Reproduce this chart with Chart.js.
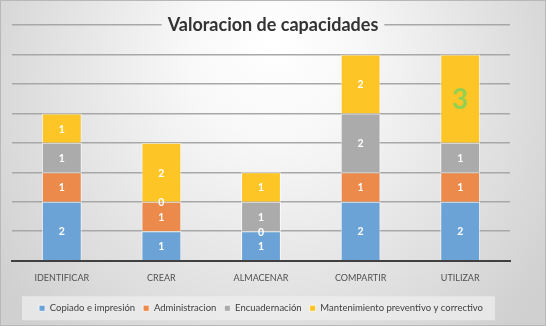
<!DOCTYPE html>
<html>
<head>
<meta charset="utf-8">
<script src="https://cdn.jsdelivr.net/npm/chart.js@4.4.1/dist/chart.umd.min.js"></script>
<style>
  html, body { margin: 0; padding: 0; background: #fff; }
  #wrap { width: 546px; height: 326px; }
</style>
</head>
<body>
<div id="wrap"><canvas id="capChart" width="546" height="326"></canvas></div>
<script>
const categories = ['IDENTIFICAR', 'CREAR', 'ALMACENAR', 'COMPARTIR', 'UTILIZAR'];
const seriesNames = ['Copiado e impresión', 'Administracion', 'Encuadernación', 'Mantenimiento preventivo y correctivo'];
const copiado = [2, 1, 1, 2, 2];
const administracion = [1, 1, 0, 1, 1];
const encuadernacion = [1, 0, 1, 2, 1];
const mantenimiento = [1, 2, 1, 2, 3];
const yMax = 8;

const titleText = 'Valoracion de capacidades';
const FONT = 'Lato, "Open Sans", sans-serif';

function bgGradient(c, w, h) {
    const g = c.createRadialGradient(w * 0.5, h * 0.12, 5, w * 0.5, h * 0.3, w * 0.6);
    g.addColorStop(0, '#ffffff');
    g.addColorStop(0.25, '#f8f8f8');
    g.addColorStop(1, '#d0d0d0');
    return g;
}

// background gradient + legend box + title
const bgPlugin = {
    id: 'bg',
    beforeDraw(chart) {
        const c = chart.ctx;
        const w = chart.width, h = chart.height;
        c.save();
        c.fillStyle = bgGradient(c, w, h);
        c.fillRect(0, 0, w, h);
        c.strokeStyle = '#b8b8b8';
        c.lineWidth = 1;
        c.strokeRect(0.5, 0.5, w - 1, h - 1);
        const boxes = chart.legend.legendHitBoxes;
        if (boxes && boxes.length) {
            const l = Math.min(...boxes.map(b => b.left)) - 17;
            const r = Math.max(...boxes.map(b => b.left + b.width)) + 12;
            const mid = boxes[0].top + boxes[0].height / 2;
            c.fillStyle = 'rgba(240,240,240,0.7)';
            c.fillRect(l, mid - 12, r - l, 24);
        }
        c.restore();
    },
    beforeDatasetsDraw(chart) {
        const c = chart.ctx;
        const w = chart.width, h = chart.height;
        c.save();
        c.font = 'bold 18px ' + FONT;
        const tw = c.measureText(titleText).width;
        const cx = w / 2;
        c.fillStyle = bgGradient(c, w, h);
        c.fillRect(cx - tw / 2 - 6, 14, tw + 12, 22);
        c.fillStyle = '#333333';
        c.textAlign = 'center';
        c.textBaseline = 'middle';
        c.fillText(titleText, cx, 25);
        c.restore();
    }
};

// value labels inside the segments
const labelPlugin = {
    id: 'segLabels',
    afterDatasetsDraw(chart) {
        const c = chart.ctx;
        c.save();
        c.textAlign = 'center';
        c.textBaseline = 'middle';
        chart.data.datasets.forEach((ds, di) => {
            chart.getDatasetMeta(di).data.forEach((bar, i) => {
                const x = bar.x;
                const y = (bar.y + bar.base) / 2;
                if (di === 3 && i === 4) {
                    c.font = 'bold 28px ' + FONT;
                    c.fillStyle = '#92D050';
                } else {
                    c.font = 'bold 10.5px ' + FONT;
                    c.fillStyle = '#ffffff';
                }
                c.fillText(String(ds.data[i]), x, y + 1);
            });
        });
        c.restore();
    }
};

var ctx = document.getElementById('capChart').getContext('2d');

var capChart = new Chart(ctx, {
    type: 'bar',
    data: {
        labels: categories,
        datasets: [
            { label: seriesNames[0], data: copiado, backgroundColor: '#6BA3D6' },
            { label: seriesNames[1], data: administracion, backgroundColor: '#EC8A4C' },
            { label: seriesNames[2], data: encuadernacion, backgroundColor: '#ABABAB' },
            { label: seriesNames[3], data: mantenimiento, backgroundColor: '#FDC526' }
        ].map(d => Object.assign(d, {
            borderColor: 'rgba(255,255,255,0.7)',
            borderWidth: 1,
            categoryPercentage: 0.8,
            barPercentage: 0.5
        }))
    },
    options: {
        responsive: false,
        animation: false,
        layout: { padding: { top: 25, left: 12, right: 36, bottom: 3 } },
        scales: {
            x: {
                stacked: true,
                grid: { color: 'transparent', drawTicks: false },
                border: { display: true, color: '#404040', width: 2 },
                ticks: { color: '#505050', padding: 12, font: { family: FONT, size: 9 } }
            },
            y: {
                stacked: true,
                min: 0,
                max: yMax,
                grid: { color: '#a8a8a8', lineWidth: 1.5, drawTicks: false },
                border: { display: false },
                ticks: { display: false, stepSize: 1 }
            }
        },
        plugins: {
            title: { display: false },
            tooltip: { enabled: false },
            legend: {
                position: 'bottom',
                labels: {
                    boxWidth: 6,
                    boxHeight: 6,
                    padding: 8,
                    color: '#404040',
                    font: { family: FONT, size: 9.5 }
                }
            }
        }
    },
    plugins: [bgPlugin, labelPlugin]
});
</script>
</body>
</html>
